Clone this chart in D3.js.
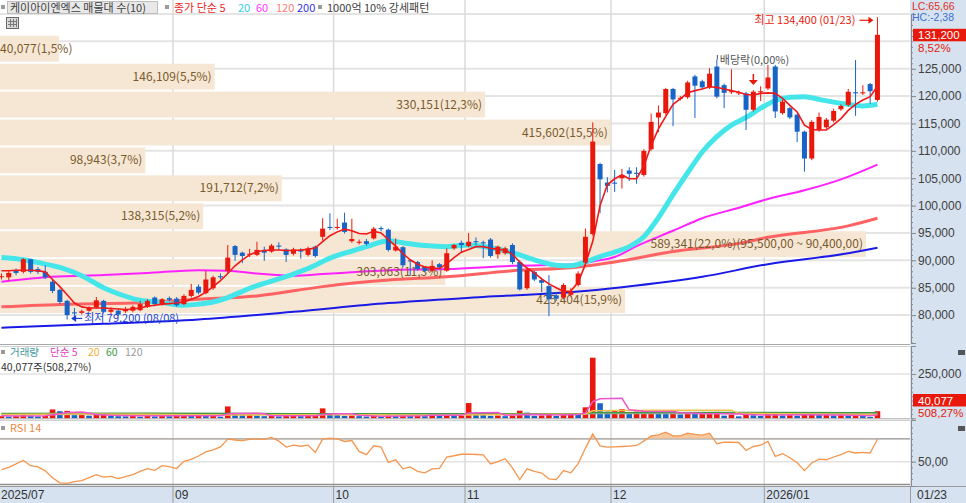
<!DOCTYPE html>
<html>
<head>
<meta charset="utf-8">
<script src="https://cdn.jsdelivr.net/npm/d3@7"></script>
<style>
body { margin: 0; background: #fff; }
svg { display: block; font-family: "Noto Sans CJK KR", "Noto Sans", sans-serif; }
.num { font-family: "Liberation Sans", "DejaVu Sans", sans-serif; }
</style>
</head>
<body>
<svg id="chart" width="966" height="503"></svg>
<script>
// ---- data (prices in thousand won, volume in thousand shares) ----
var months = ["2025-07", "2025-08", "2025-09", "2025-10", "2025-11", "2025-12", "2026-01"];
var monthLabels = ["2025/07", "", "09", "10", "11", "12", "2026/01"]; // 08 not shown in the original
var monthDays = [
	[28, 29, 30, 31],
	[1, 4, 5, 6, 7, 8, 11, 12, 13, 14, 18, 19, 20, 21, 22, 25, 26, 27, 28, 29],
	[1, 2, 3, 4, 5, 8, 9, 10, 11, 12, 15, 16, 17, 18, 19, 22, 23, 24, 25, 26, 29, 30],
	[1, 2, 10, 13, 14, 15, 16, 17, 20, 21, 22, 23, 24, 27, 28, 29, 30, 31],
	[3, 4, 5, 6, 7, 10, 11, 12, 13, 14, 17, 18, 19, 20, 21, 24, 25, 26, 27, 28],
	[1, 2, 3, 4, 5, 8, 9, 10, 11, 12, 15, 16, 17, 18, 19, 22, 23, 24, 26, 29, 30],
	[2, 5, 6, 7, 8, 9, 12, 13, 14, 15, 16, 19, 20, 21, 22, 23]
];

var opens = [87.0,86.9,88.2,87.9,90.2,88.4,87.9,86.1,84.6,82.6, 80.5,80.4,80.8,81.4,82.6,80.6,80.8,80.7,80.8,80.9,
	81.5,83.2,82.0,83.1,83.0,82.0,83.5,85.2,84.0,84.9, 87.1,88.1,92.6,91.4,91.0,91.0,91.9,91.6,92.7,92.0,
	91.2,91.9,91.0,92.5,94.3,96.1,95.9,96.9,93.5,93.2, 93.5,94.0,95.9,95.6,91.8,92.4,90.0,89.7,88.7,88.1,
	89.3,88.1,92.2,93.2,92.6,93.5,93.3,93.8,91.1,91.3, 92.8,89.7,84.9,87.9,86.4,85.3,83.6,83.2,83.7,85.5,
	89.6,94.8,107.6,104.2,104.2,105.0,106.4,106.0,105.6,110.3, 116.1,116.9,121.3,119.5,119.8,123.6,122.7,121.6,125.4,122.0,
	120.7,120.5,120.5,117.5,120.7,121.4,125.4,116.9,117.8,116.6, 113.5,108.6,113.8,114.3,115.5,117.6,118.4,120.7,120.5,122.2,
	119.3];
var highs = [87.6,88.2,88.5,90.4,90.3,88.8,89.1,86.6,84.8,82.8, 81.3,81.0,81.6,83.3,82.8,81.4,81.2,81.5,81.8,82.6,
	82.9,83.4,83.1,83.4,83.3,83.8,85.7,85.6,88.1,87.2, 87.6,92.8,92.8,91.6,92.1,93.4,92.5,93.0,93.3,92.2,
	92.3,92.2,92.5,92.7,97.7,98.6,97.6,98.7,97.6,93.8, 93.9,96.1,96.2,95.8,94.0,92.6,90.2,89.9,88.9,90.0,
	89.5,92.2,93.0,93.6,95.0,94.2,93.6,94.1,92.7,92.5, 93.1,90.0,88.5,88.1,86.8,87.3,84.2,85.8,84.9,88.0,
	95.8,115.2,107.8,105.2,106.5,106.7,107.0,107.0,110.3,116.8, 118.3,121.5,121.5,120.0,122.8,123.9,123.0,125.1,126.7,122.3,
	124.9,121.0,120.8,121.1,121.8,125.7,125.7,119.3,118.0,116.8, 113.7,115.6,117.0,116.0,117.7,118.5,121.3,126.6,122.0,122.4,
	134.4];
var lows = [86.5,86.3,87.3,87.6,87.6,87.5,86.6,84.0,82.0,79.2, 79.6,80.1,80.6,81.2,80.3,80.2,79.8,80.4,80.5,80.7,
	81.3,81.6,81.7,82.5,81.5,81.8,83.2,83.8,83.8,84.6, 86.6,87.6,89.9,89.5,90.6,90.8,89.9,91.4,91.9,89.7,
	90.9,90.3,90.7,90.5,93.6,95.5,95.6,94.9,93.2,92.9, 92.7,93.8,95.3,91.6,91.6,88.8,87.2,88.1,87.8,87.9,
	88.4,87.9,91.9,91.5,92.4,92.8,90.4,90.5,90.3,91.0, 89.3,84.5,84.6,86.2,84.2,79.8,82.6,82.9,83.4,85.2,
	89.3,94.5,98.6,102.4,102.5,103.1,104.5,104.0,105.3,110.0, 113.4,116.6,114.5,119.2,119.5,116.0,121.3,121.3,119.6,117.8,
	120.4,120.2,113.8,117.2,119.1,121.1,116.0,116.6,115.8,111.6, 106.2,108.3,113.5,114.0,115.2,117.3,118.1,116.4,120.2,118.6,
	119.0];
var closes = [87.1,87.7,87.7,90.2,87.9,87.9,86.9,84.4,82.4,80.0, 80.3,80.7,81.4,82.7,80.6,81.0,80.1,81.1,81.5,82.0,
	82.6,82.0,82.9,82.8,81.8,83.5,84.6,84.1,86.5,86.9, 86.9,90.5,91.0,90.8,91.2,91.9,91.4,92.7,92.5,91.0,
	92.0,91.6,92.2,90.8,95.8,95.9,96.1,95.2,93.9,93.4, 93.0,95.8,95.7,91.9,92.5,89.1,89.8,88.4,88.1,89.0,
	88.7,91.3,92.8,92.8,93.4,93.3,93.1,90.8,92.5,92.2, 89.7,84.7,88.2,86.5,85.9,82.9,83.0,85.5,84.3,87.6,
	94.3,111.7,104.8,103.6,104.0,105.6,105.8,105.8,110.0,115.3, 117.0,121.3,119.4,119.7,122.5,121.9,121.6,124.1,119.9,120.6,
	120.9,120.7,117.5,120.8,120.9,123.4,117.2,119.0,116.1,113.5, 108.6,115.3,116.2,115.7,117.3,118.2,120.8,120.5,120.7,120.9,
	131.2];

// moving averages
var ma5 = [88.1,88.1,88.2,88.2,88.2,88.1,87.9,86.5,85.2,83.7, 82.2,81.5,81.3,81.3,81.3,81.2,81.1,81.0,81.1,81.3,
	81.6,81.8,82.0,82.1,82.2,82.4,82.9,83.4,84.2,85.2, 86.3,87.6,89.0,90.1,91.0,91.6,91.8,91.9,91.9,91.8,
	91.8,91.9,92.0,92.3,93.4,94.5,95.2,95.7,95.4,94.9, 94.8,95.3,95.0,93.8,92.6,91.2,90.1,89.3,88.8,88.6,
	88.5,89.4,90.5,91.5,92.0,92.5,92.5,92.2,92.0,91.9, 91.1,89.7,88.6,87.7,86.6,85.7,85.0,84.3,84.4,86.0,
	89.3,93.5,100.0,103.8,104.9,105.6,104.9,104.9,107.2,111.0, 114.0,116.3,118.5,119.5,120.6,121.0,121.3,121.7,121.6,121.3,
	121.0,120.7,120.3,120.2,120.5,120.6,120.5,119.6,118.3,117.1, 114.7,113.9,113.8,113.8,114.8,115.9,117.4,118.5,119.3,119.9,
	121.8];
var ma20 = [[0,90.5],[3,90.1],[5,89.6],[8,88.7],[11,87.2],[14,85.0],[16,83.9],[19,82.7],[22,82.3],[25,81.8],
	[27,82.0],[29,82.4],[31,83.2],[34,84.9],[37,86.2],[40,87.5],[42,88.5],[45,90.4],[48,91.7],[50,92.5],
	[53,93.6],[55,93.2],[58,92.7],[61,92.5],[64,92.8],[67,92.3],[70,91.4],[73,90.1],[76,89.1],[78,89.0],
	[80,89.7],[82,90.7],[84,91.5],[86,92.5],[88,94.3],[90,97.8],[92,102.0],[94,106.0],[96,109.8],[98,112.6],
	[100,114.7],[102,116.1],[104,117.8],[106,119.2],[108,119.8],[110,119.9],[112,119.4],[114,118.9],[116,118.5],[118,118.2],[120,118.5]];
var ma60 = [[0,86.1],[7,87.0],[14,87.3],[20,87.7],[27,88.2],[31,88.1],[35,87.6],[40,87.2],[44,87.5],[49,87.9],
	[53,88.2],[61,88.4],[70,89.0],[79,89.3],[81,89.8],[84,90.6],[87,92.6],[92,95.4],[96,97.7],[101,99.6],
	[105,101.2],[110,102.8],[115,104.8],[120,107.5]];
var ma120 = [[0,81.5],[9,82.0],[18,82.2],[27,82.9],[35,83.5],[44,85.2],[53,86.4],[61,87.0],[70,88.1],[79,88.8],
	[84,89.7],[92,91.6],[101,93.1],[105,94.2],[116,96.3],[120,97.7]];
var ma200 = [[0,77.7],[14,78.4],[27,79.2],[40,80.6],[53,82.2],[66,83.3],[79,84.3],[85,85.1],[96,87.0],[105,89.3],
	[116,91.3],[120,92.3]];

// volume profile (매물대), bottom band first
var bandLow = [80.2, 85.3, 90.4, 95.5, 100.6, 105.7, 110.8, 115.9, 121.0, 126.1];
var bandHigh = [85.3, 90.4, 95.5, 100.6, 105.7, 110.8, 115.9, 121.0, 126.1, 131.2];
var bandVol = [425404, 303063, 589341, 138315, 191712, 98943, 415602, 330151, 146109, 40077];
var bandPct = ["15,9", "11,3", "22,0", "5,2", "7,2", "3,7", "15,5", "12,3", "5,5", "1,5"];

var volumes = [12,10,14,22,15,11,13,50,40,42, 18,22,15,20,24,14,12,11,13,9,
	14,11,16,12,15,17,13,16,14,15, 9,67,26,18,22,16,12,14,11,13,
	15,12,14,16,56,22,18,14,16,12, 10,13,11,15,13,17,14,16,12,26,
	14,16,13,15,86,24,18,14,16,12, 15,43,32,14,16,20,13,18,30,24,
	62,342,85,38,43,51,26,38,42,42, 34,33,42,22,28,26,27,27,36,15,
	21,11,26,17,13,24,26,16,18,15, 22,24,18,20,16,18,15,19,14,7.885,
	40.077];
var volRatio = "508,27";
var vma5 = [[0,14],[2,13],[6,14],[7,20],[8,26],[9,33],[11,36],[12,30],[13,22],[15,17],[18,14],[24,14],[30,15],
	[31,24],[32,27],[35,28],[36,26],[37,14],[43,14],[44,22],[46,26],[48,26],[49,17],[52,12],[58,15],[59,17],
	[63,17],[64,30],[66,32],[68,33],[69,17],[71,20],[73,22],[76,19],[79,21],[80,30],[81,94],[82,110],[85,113],
	[86,48],[88,40],[92,39],[93,32],[96,27],[100,25],[104,18],[110,20],[115,18],[119,15],[120,20]];
var vma20 = [[0,22],[10,24],[20,23],[30,18],[40,20],[50,20],[60,17],[70,22],[80,24],[81,42],[90,46],[100,46],
	[101,28],[110,24],[120,21]];
var vma60 = [[0,27],[20,28],[40,26],[60,25],[80,26],[81,31],[100,33],[120,31]];
var vma120 = [[0,22],[40,23],[80,24],[81,27],[120,28]];

var rsi = [43.0,45.0,48.0,51.0,46.5,45.5,42.0,36.0,31.5,31.0, 32.5,33.5,36.0,38.7,36.5,37.2,35.2,37.0,38.7,41.5,
	43.9,42.4,46.5,45.7,44.0,50.3,52.0,55.0,58.5,60.4, 63.0,69.8,69.0,68.5,69.5,70.0,69.5,71.3,68.0,62.8,
	64.5,63.5,64.5,58.1,69.7,70.5,70.0,67.7,68.5,59.0, 56.1,63.9,62.8,49.4,51.7,43.7,45.4,41.6,40.2,43.7,
	44.2,54.1,55.2,56.5,56.7,56.3,56.0,48.0,50.0,52.6, 44.5,34.3,43.7,41.5,40.0,35.0,34.3,42.2,40.2,48.3,
	61.9,74.3,63.9,62.8,63.0,63.3,63.7,64.2,68.0,72.6, 73.5,75.8,72.6,72.6,75.0,74.0,73.2,75.0,65.7,67.1,
	67.0,66.8,59.8,63.3,64.5,67.7,54.6,57.0,53.5,49.0, 42.2,48.9,52.3,51.7,54.1,56.1,59.0,57.6,58.1,57.6,
	69.7];

// ---- layout ----
var svg = d3.select("#chart");
var W = 966, H = 503;
var plotR = 910;
var RED = "#e8190c", BLUE = "#1764c6";
var fmt = d3.format(",");

var x = d3.scaleLinear().domain([0, closes.length - 1]).range([1.45, 1.45 + 7.3 * (closes.length - 1)]);
var yP = d3.scaleLinear().domain([74.9, 135.0]).range([343, 14]);
var yV = d3.scaleLinear().domain([0, 408]).range([418.3, 346]);
var yR = d3.scaleLinear().domain([28.7, 86.5]).range([486, 420]);

var defs = svg.append("defs");
defs.append("clipPath").attr("id", "clipP").append("rect").attr("x", 0).attr("y", 14).attr("width", plotR).attr("height", 330);
defs.append("clipPath").attr("id", "clipV").append("rect").attr("x", 0).attr("y", 347).attr("width", plotR).attr("height", 72);
defs.append("clipPath").attr("id", "clipR70").append("rect").attr("x", 0).attr("y", 420).attr("width", plotR).attr("height", yR(70) - 420);

// right axis and x axis backgrounds
svg.append("rect").attr("x", plotR).attr("y", 0).attr("width", W - plotR).attr("height", H).attr("fill", "#d6e2ef");
svg.append("rect").attr("x", 0).attr("y", 486).attr("width", W).attr("height", H - 486).attr("fill", "#d6e2ef");

// month boundaries
var monthStart = [];
var acc = 0;
monthDays.forEach(function(d) { monthStart.push(acc); acc += d.length; });
var bounds = [];
monthStart.forEach(function(s, k) {
	if (k > 0 && monthLabels[k] !== "") bounds.push({ x: (x(s - 1) + x(s)) / 2, label: monthLabels[k] });
});

// horizontal grid (price)
var gP = svg.append("g");
gP.selectAll("line.hg").data(d3.range(80, 136, 5)).enter().append("line")
	.attr("x1", 0).attr("x2", plotR).attr("y1", function(d) { return yP(d); }).attr("y2", function(d) { return yP(d); })
	.attr("stroke", "#e4e4e4").attr("stroke-width", 2);

// vertical grid
svg.selectAll("line.vg").data(bounds).enter().append("line")
	.attr("x1", function(d) { return d.x; }).attr("x2", function(d) { return d.x; })
	.attr("y1", 0).attr("y2", 486).attr("stroke", "#dadada").attr("stroke-width", 1.5);

// ---- price panel ----
var pane = svg.append("g").attr("clip-path", "url(#clipP)");

var bw = d3.scaleLinear().domain([0, d3.max(bandVol)]).range([0, 866]);
var bands = bandVol.map(function(v, k) {
	var lab = fmt(v) + "(" + bandPct[k] + "%)";
	if (v === d3.max(bandVol)) lab += "(" + fmt(bandHigh[k] * 1000) + ",00 ~ " + fmt(bandLow[k] * 1000) + ",00)";
	return { lo: bandLow[k], hi: bandHigh[k], v: v, lab: lab };
});
pane.selectAll("rect.band").data(bands).enter().append("rect")
	.attr("x", 0).attr("y", function(d) { return yP(d.hi) + 1; })
	.attr("width", function(d) { return bw(d.v); })
	.attr("height", function(d) { return yP(d.lo) - yP(d.hi) - 2; })
	.attr("fill", "#f6e7d4");

var mline = d3.line().x(function(d) { return x(d[0]); }).y(function(d) { return yP(d[1]); }).curve(d3.curveMonotoneX);
pane.append("path").attr("d", mline(ma200)).attr("fill", "none").attr("stroke", "#1a1ae6").attr("stroke-width", 2);
pane.append("path").attr("d", mline(ma120)).attr("fill", "none").attr("stroke", "#ff6262").attr("stroke-width", 3);
pane.append("path").attr("d", mline(ma60)).attr("fill", "none").attr("stroke", "#ff22ff").attr("stroke-width", 2);
pane.append("path").attr("d", mline(ma20)).attr("fill", "none").attr("stroke", "#44e6ea").attr("stroke-width", 5);

// band labels (on top of lines like the original)
pane.selectAll("text.band").data(bands).enter().append("text")
	.attr("y", function(d) { return (yP(d.hi) + yP(d.lo)) / 2 + 4; })
	.attr("font-size", 12).attr("fill", "#7a5a2c")
	.text(function(d) { return d.lab; })
	.each(function(d) {
		var t = d3.select(this), w = this.getComputedTextLength(), bx = bw(d.v);
		if (w > bx - 4) t.attr("x", 0); else t.attr("x", bx - 3 - w);
	});

var candles = closes.map(function(c, i) { return { i: i, o: opens[i], h: highs[i], l: lows[i], c: c }; });
var cg = pane.selectAll("g.candle").data(candles).enter().append("g");
cg.append("line")
	.attr("x1", function(d) { return x(d.i); }).attr("x2", function(d) { return x(d.i); })
	.attr("y1", function(d) { return yP(d.h); }).attr("y2", function(d) { return yP(d.l); })
	.attr("stroke", function(d) { return d.c >= d.o ? RED : BLUE; }).attr("stroke-width", 1);
cg.append("rect")
	.attr("x", function(d) { return x(d.i) - 2.5; }).attr("width", 5)
	.attr("y", function(d) { return yP(Math.max(d.o, d.c)); })
	.attr("height", function(d) { return Math.max(1, Math.abs(yP(d.o) - yP(d.c))); })
	.attr("fill", function(d) { return d.c >= d.o ? RED : BLUE; });

pane.append("path").attr("d", d3.line().x(function(d, i) { return x(i); }).y(function(d) { return yP(d); })(ma5))
	.attr("fill", "none").attr("stroke", "#f01818").attr("stroke-width", 1.6);

// high / low markers
var iMax = d3.maxIndex(highs), iMin = d3.minIndex(lows);
var dateOf = function(i) {
	var k = d3.bisectRight(monthStart, i) - 1;
	return months[k].slice(5) + "/" + String(monthDays[k][i - monthStart[k]]).padStart(2, "0");
};
svg.append("text").attr("x", x(iMax) - 22).attr("y", yP(highs[iMax]) + 7).attr("text-anchor", "end")
	.attr("font-size", 11).attr("fill", RED).text("최고 " + fmt(highs[iMax] * 1000) + " (" + dateOf(iMax) + ")");
svg.append("line").attr("x1", x(iMax) - 18).attr("x2", x(iMax) - 8).attr("y1", yP(highs[iMax]) + 3).attr("y2", yP(highs[iMax]) + 3)
	.attr("stroke", RED).attr("stroke-width", 1.2);
svg.append("path").attr("d", "M" + (x(iMax) - 4) + "," + (yP(highs[iMax]) + 3) + "l-5,-3.5v7z").attr("fill", RED);

svg.append("line").attr("x1", x(iMin) + 5).attr("x2", x(iMin) + 15).attr("y1", yP(lows[iMin]) - 1).attr("y2", yP(lows[iMin]) - 1)
	.attr("stroke", "#1a3fd0").attr("stroke-width", 1.2);
svg.append("path").attr("d", "M" + (x(iMin) + 4) + "," + (yP(lows[iMin]) - 1) + "l5,-3.5v7z").attr("fill", "#1a3fd0");
svg.append("text").attr("x", x(iMin) + 17).attr("y", yP(lows[iMin]) + 3)
	.attr("font-size", 11).attr("fill", "#1a3fd0").text("최저 " + fmt(lows[iMin] * 1000) + " (" + dateOf(iMin) + ")");

// ex-dividend marker
var iDiv = 98, iArrow = 103;
svg.append("line").attr("x1", x(iDiv) + 0.5).attr("x2", x(iDiv) + 0.5).attr("y1", 55).attr("y2", yP(highs[iDiv]))
	.attr("stroke", "#555").attr("stroke-width", 1);
svg.append("text").attr("x", x(iDiv) + 3).attr("y", 64).attr("font-size", 11).attr("fill", "#555").text("배당락(0,00%)");
svg.append("line").attr("x1", x(iArrow)).attr("x2", x(iArrow)).attr("y1", 74).attr("y2", 80).attr("stroke", RED).attr("stroke-width", 1.5);
svg.append("path").attr("d", "M" + (x(iArrow) - 4.5) + ",80h9l-4.5,5z").attr("fill", RED);

// price panel bottom border
svg.append("line").attr("x1", 0).attr("x2", plotR).attr("y1", 344.5).attr("y2", 344.5).attr("stroke", "#a8a8a8");
svg.append("line").attr("x1", 0).attr("x2", plotR).attr("y1", 346.5).attr("y2", 346.5).attr("stroke", "#cfcfcf");

// ---- volume panel ----
svg.append("line").attr("x1", 0).attr("x2", plotR).attr("y1", yV(250)).attr("y2", yV(250)).attr("stroke", "#e2e2e2").attr("stroke-width", 1.5);
var vp = svg.append("g").attr("clip-path", "url(#clipV)");
vp.selectAll("rect.vol").data(volumes).enter().append("rect")
	.attr("x", function(d, i) { return x(i) - 2.8; }).attr("width", 5.6)
	.attr("y", function(d) { return yV(d); })
	.attr("height", function(d) { return Math.max(1, yV(0) - yV(d)); })
	.attr("fill", function(d, i) { return (i === 0 || d >= volumes[i - 1]) ? RED : BLUE; });
var vline = d3.line().x(function(d) { return x(d[0]); }).y(function(d) { return yV(d[1]); });
vp.append("path").attr("d", vline(vma120)).attr("fill", "none").attr("stroke", "#b0b0b0").attr("stroke-width", 1.5);
vp.append("path").attr("d", vline(vma60)).attr("fill", "none").attr("stroke", "#3f9a46").attr("stroke-width", 1.5);
vp.append("path").attr("d", vline(vma20)).attr("fill", "none").attr("stroke", "#f2c24a").attr("stroke-width", 1.5);
vp.append("path").attr("d", vline(vma5)).attr("fill", "none").attr("stroke", "#ee55cc").attr("stroke-width", 1.5);

svg.append("line").attr("x1", 0).attr("x2", plotR).attr("y1", 418.8).attr("y2", 418.8).attr("stroke", "#a8a8a8");
svg.append("line").attr("x1", 0).attr("x2", plotR).attr("y1", 420.5).attr("y2", 420.5).attr("stroke", "#d0d0d0");

// ---- RSI panel ----
[70, 30].forEach(function(v) {
	svg.append("line").attr("x1", 0).attr("x2", plotR).attr("y1", yR(v)).attr("y2", yR(v)).attr("stroke", "#8f8f8f").attr("stroke-width", 1.3);
});
svg.append("line").attr("x1", 0).attr("x2", plotR).attr("y1", yR(50)).attr("y2", yR(50)).attr("stroke", "#e2e2e2").attr("stroke-width", 1.5);
var rArea = d3.area().x(function(d, i) { return x(i); }).y0(yR(70)).y1(function(d) { return yR(d); });
svg.append("path").attr("d", rArea(rsi)).attr("fill", "#f7c7a0").attr("clip-path", "url(#clipR70)");
svg.append("path").attr("d", d3.line().x(function(d, i) { return x(i); }).y(function(d) { return yR(d); })(rsi))
	.attr("fill", "none").attr("stroke", "#f5964e").attr("stroke-width", 1.3);

// ---- x axis ----
svg.append("line").attr("x1", 0).attr("x2", W).attr("y1", 486.5).attr("y2", 486.5).attr("stroke", "#9a9a9a");
svg.selectAll("line.xt").data(bounds).enter().append("line")
	.attr("x1", function(d) { return d.x; }).attr("x2", function(d) { return d.x; })
	.attr("y1", 486).attr("y2", H).attr("stroke", "#9a9a9a");
svg.append("text").attr("class", "num").attr("x", 1).attr("y", 499).attr("font-size", 12).attr("fill", "#333").text(monthLabels[0]);
svg.selectAll("text.xl").data(bounds).enter().append("text").attr("class", "num")
	.attr("x", function(d) { return d.x + 2; }).attr("y", 499).attr("font-size", 12).attr("fill", "#333")
	.text(function(d) { return d.label; });
svg.append("line").attr("x1", plotR + 0.5).attr("x2", plotR + 0.5).attr("y1", 486).attr("y2", H).attr("stroke", "#9a9a9a");
svg.append("text").attr("class", "num").attr("x", 917).attr("y", 499).attr("font-size", 12).attr("fill", "#333").text(dateOf(closes.length - 1));

// ---- right axes ----
function styleAxis(g) {
	g.select(".domain").attr("stroke", "#8a8a8a");
	g.selectAll(".tick line").attr("stroke", "#8a8a8a");
	g.selectAll(".tick text").attr("fill", "#404040").attr("font-size", 12).attr("font-family", "Liberation Sans, DejaVu Sans, sans-serif");
}
svg.append("g").attr("transform", "translate(" + (plotR + 1) + ",0)")
	.call(d3.axisRight(yP).tickValues(d3.range(75, 135, 1)).tickSize(2).tickFormat("")).call(styleAxis);
svg.append("g").attr("transform", "translate(" + (plotR + 1) + ",0)")
	.call(d3.axisRight(yP).tickValues(d3.range(80, 126, 5)).tickSize(5).tickPadding(2).tickFormat(function(d) { return fmt(d * 1000); }))
	.call(styleAxis);
svg.append("g").attr("transform", "translate(" + (plotR + 1) + ",0)")
	.call(d3.axisRight(yV).tickValues(d3.range(0, 400, 25)).tickSize(2).tickFormat("")).call(styleAxis);
svg.append("g").attr("transform", "translate(" + (plotR + 1) + ",0)")
	.call(d3.axisRight(yV).tickValues([250]).tickSize(5).tickPadding(2).tickFormat(function(d) { return fmt(d * 1000); }))
	.call(styleAxis);
svg.append("g").attr("transform", "translate(" + (plotR + 1) + ",0)")
	.call(d3.axisRight(yR).tickValues(d3.range(35, 85, 5)).tickSize(2).tickFormat("")).call(styleAxis);
svg.append("g").attr("transform", "translate(" + (plotR + 1) + ",0)")
	.call(d3.axisRight(yR).tickValues([50]).tickSize(5).tickPadding(2).tickFormat(function() { return "50,00"; }))
	.call(styleAxis);

// current price / volume tags
var last = closes.length - 1;
var chg = (closes[last] / closes[last - 1] - 1) * 100;
svg.append("rect").attr("x", plotR + 3).attr("y", yP(closes[last]) - 6).attr("width", W - plotR - 3).attr("height", 12.5).attr("fill", RED);
svg.append("text").attr("class", "num").attr("x", plotR + 8).attr("y", yP(closes[last]) + 4.5).attr("font-size", 11.5).attr("fill", "#fff").text(fmt(closes[last] * 1000));
svg.append("text").attr("class", "num").attr("x", plotR + 8).attr("y", yP(closes[last]) + 17).attr("font-size", 11.5).attr("fill", RED)
	.text(d3.format(".2f")(chg).replace(".", ",") + "%");
svg.append("text").attr("class", "num").attr("x", plotR + 2).attr("y", 9.5).attr("font-size", 10.5).attr("fill", "#e0301e").text("LC:65,66");
svg.append("text").attr("class", "num").attr("x", plotR + 2).attr("y", 21).attr("font-size", 10.5).attr("fill", "#3a70d0").text("HC:-2,38");

svg.append("rect").attr("x", plotR + 3).attr("y", 394).attr("width", W - plotR - 3).attr("height", 12.5).attr("fill", RED);
svg.append("text").attr("class", "num").attr("x", plotR + 8).attr("y", 404.5).attr("font-size", 11.5).attr("fill", "#fff").text(fmt(Math.round(volumes[last] * 1000)));
svg.append("text").attr("class", "num").attr("x", plotR + 8).attr("y", 417).attr("font-size", 11.5).attr("fill", RED).text(volRatio + "%");
[350, 426].forEach(function(yy) {
	svg.append("rect").attr("x", 958).attr("y", yy).attr("width", 7).attr("height", 5).attr("fill", "#555");
});

// ---- legends ----
function sq(x0, y0) {
	svg.append("rect").attr("x", x0).attr("y", y0).attr("width", 4).attr("height", 4).attr("fill", "#9a9a9a");
}
sq(1, 5);
svg.append("rect").attr("x", 7.5).attr("y", 1.5).attr("width", 150).attr("height", 12).attr("fill", "#e8e8e8").attr("stroke", "#bdbdbd");
svg.append("text").attr("x", 10).attr("y", 11.5).attr("font-size", 11).attr("fill", "#404040").text("케이아이엔엑스 매물대 수(10)");
sq(165, 5);
var lg = [["종가 단순 5", "#e8281e", 174], ["20", "#33d0f0", 238], ["60", "#ff33ff", 256], ["120", "#ff7a7a", 276], ["200", "#3333ee", 297]];
lg.forEach(function(d) {
	svg.append("text").attr("x", d[2]).attr("y", 11.5).attr("font-size", 11).attr("fill", d[1]).text(d[0]);
});
sq(318, 5);
svg.append("text").attr("x", 327).attr("y", 11.5).attr("font-size", 11).attr("fill", "#404040").text("1000억 10% 강세패턴");

// table icon
svg.append("rect").attr("x", 6.5).attr("y", 17.5).attr("width", 12).attr("height", 11).attr("fill", "#d8d8d8").attr("stroke", "#6a6a6a");
[21, 24].forEach(function(yy) { svg.append("line").attr("x1", 8).attr("x2", 17).attr("y1", yy + 0.5).attr("y2", yy + 0.5).attr("stroke", "#7a7a7a"); });
[10, 13, 16].forEach(function(xx) { svg.append("line").attr("x1", xx + 0.5).attr("x2", xx + 0.5).attr("y1", 19).attr("y2", 27).attr("stroke", "#7a7a7a"); });

sq(1, 350);
var vl = [["거래량", "#3a9a9a", 10], ["단순 5", "#e040c0", 50], ["20", "#f0b030", 88], ["60", "#3a9a4a", 106], ["120", "#999", 125]];
vl.forEach(function(d) {
	svg.append("text").attr("x", d[2]).attr("y", 355.5).attr("font-size", 10.5).attr("fill", d[1]).text(d[0]);
});
svg.append("text").attr("x", 1).attr("y", 371).attr("font-size", 10.5).attr("fill", "#333")
	.text(fmt(Math.round(volumes[last] * 1000)) + "주(" + volRatio + "%)");

sq(1, 426);
svg.append("text").attr("x", 10).attr("y", 432).attr("font-size", 11).attr("fill", "#f08a3c").text("RSI 14");
</script>
</body>
</html>
